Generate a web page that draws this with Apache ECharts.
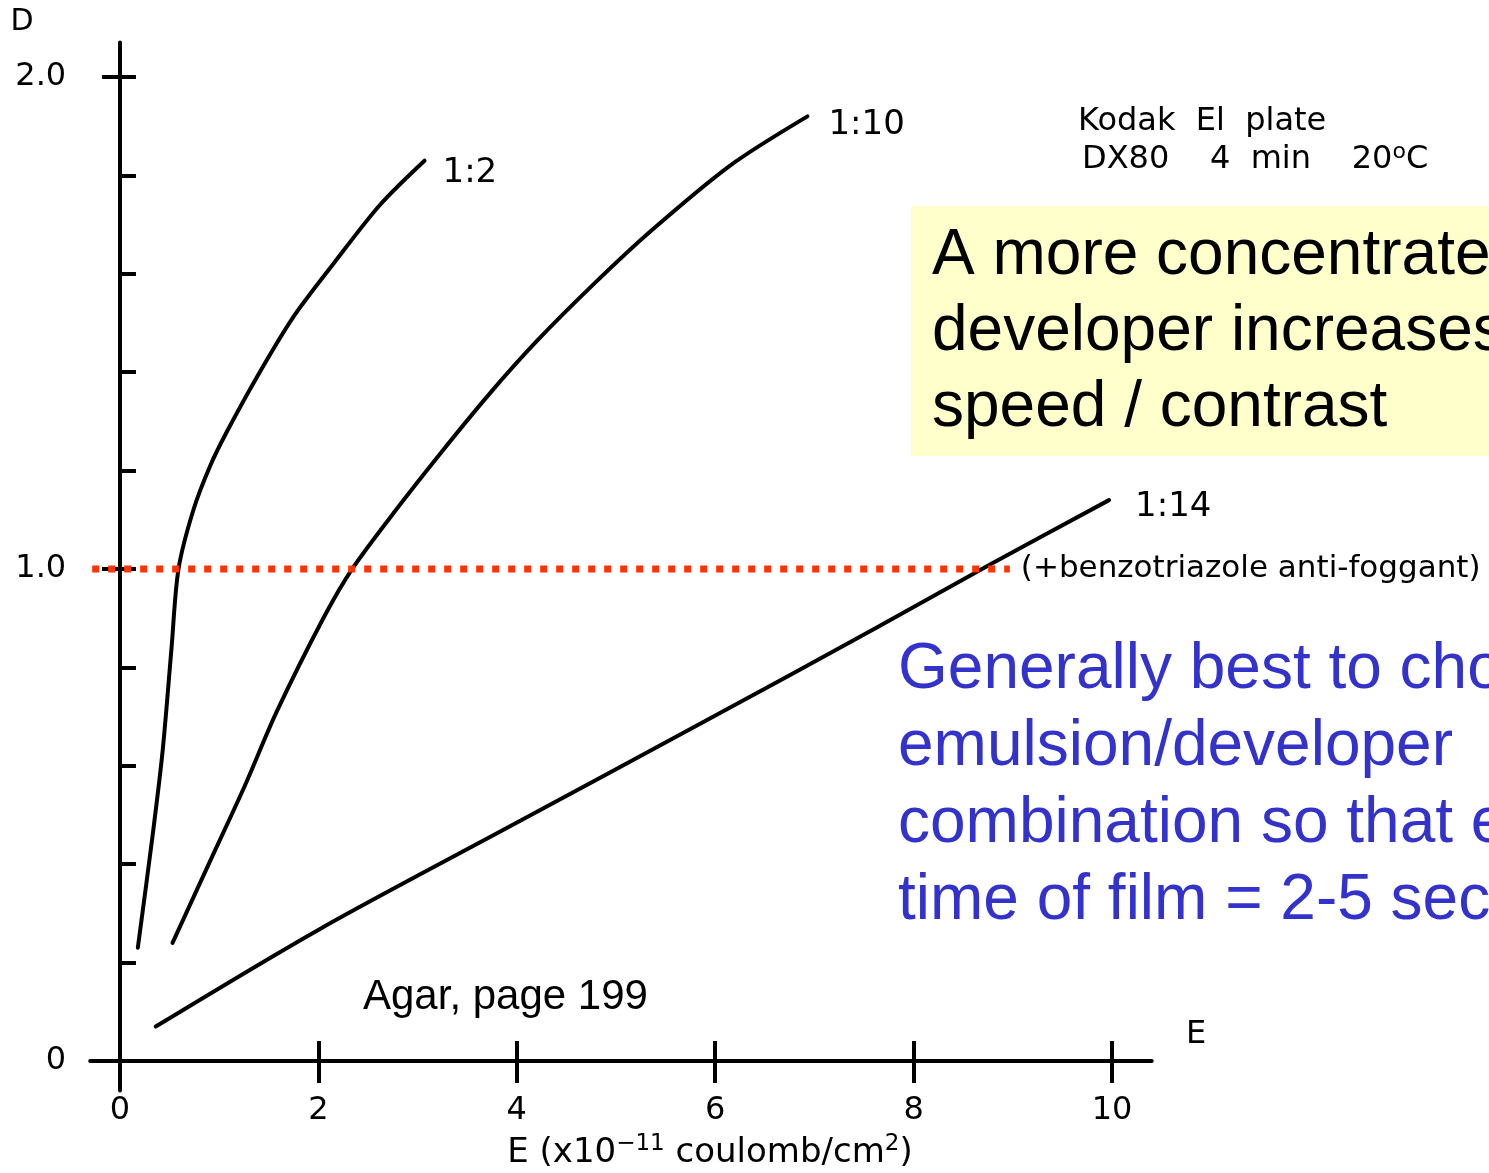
<!DOCTYPE html>
<html>
<head>
<meta charset="UTF-8">
<title>D vs E</title>
<style>
  html, body { margin: 0; padding: 0; background: #fff; }
  #chart { width: 1489px; height: 1173px; }
</style>
<script src="https://cdn.jsdelivr.net/npm/echarts@6/dist/echarts.min.js"></script>
</head>
<body>
<div id="chart"></div>
<script>
// E (x10^-11 coulomb/cm2) and density D
var e1to2 = [0.18, 0.33, 0.43, 0.52, 0.59, 0.74, 0.91, 1.08, 1.38, 1.74, 2.15, 2.62, 3.07];
var d1to2 = [0.23, 0.46, 0.63, 0.84, 1.00, 1.12, 1.21, 1.28, 1.39, 1.51, 1.62, 1.74, 1.83];

var e1to10 = [0.53, 0.94, 1.26, 1.58, 2.05, 2.34, 2.82, 3.23, 3.72, 4.21, 4.78, 5.34, 6.15, 6.93];
var d1to10 = [0.24, 0.42, 0.56, 0.71, 0.90, 1.00, 1.13, 1.235, 1.355, 1.465, 1.58, 1.685, 1.82, 1.92];

var e1to14 = [0.36, 2.03, 3.96, 5.89, 7.62, 8.78, 9.97];
var d1to14 = [0.07, 0.27, 0.48, 0.69, 0.88, 1.01, 1.14];

// dotted reference line at D = 1.0
var refE = [-0.28, 8.97];
var refD = [1.0, 1.0];

var xTicks = [0, 2, 4, 6, 8, 10];
var yLabels = [0, 1, 2];
var yTicks = [0.2, 0.4, 0.6, 0.8, 1.0, 1.2, 1.4, 1.6, 1.8, 2.0];
var yCross = [1.0, 2.0];

var SCAN = '"DejaVu Sans", sans-serif';            // the scanned figure lettering
var FONT = '"Liberation Sans", Arial, sans-serif'; // the slide text

function zip(xs, ys) { return xs.map(function (x, i) { return [x, ys[i]]; }); }

function curve(name, xs, ys, off) {
    return {
        name: name, type: 'line', data: zip(xs, ys),
        symbol: 'none', smooth: 0.3,
        lineStyle: { color: '#000', width: 4, cap: 'round' },
        endLabel: { show: true, formatter: name, color: '#000', fontSize: 34, fontFamily: SCAN, offset: off }
    };
}

var chart = echarts.init(document.getElementById('chart'));

var blk = { color: '#000', width: 4 };

var option = {
    animation: false,
    grid: { left: 90.2, right: 337.3, top: 42.6, bottom: 82.5, outerBoundsMode: 'none', containLabel: false },
    xAxis: [
        { type: 'value', min: -0.3, max: 10.4,
          axisLine: { onZero: true, lineStyle: blk },
          splitLine: { show: false },
          axisTick: { customValues: xTicks, length: 22, lineStyle: blk },
          axisLabel: { customValues: xTicks, margin: 4, fontSize: 32, color: '#000', fontFamily: SCAN } },
        { type: 'value', min: -0.3, max: 10.4, position: 'bottom',
          axisLine: { show: false, onZero: true },
          splitLine: { show: false },
          axisTick: { customValues: xTicks.slice(1), inside: true, length: 20, lineStyle: blk },
          axisLabel: { show: false } }
    ],
    yAxis: [
        { type: 'value', min: -0.06, max: 2.07,
          axisLine: { onZero: true, lineStyle: blk },
          splitLine: { show: false },
          axisTick: { customValues: yTicks, inside: true, length: 16, lineStyle: blk },
          axisLabel: { customValues: yLabels, margin: 24, fontSize: 32, color: '#000', fontFamily: SCAN,
                       formatter: function (v) { return v === 0 ? '0' : v.toFixed(1); } } },
        { type: 'value', min: -0.06, max: 2.07, position: 'left',
          axisLine: { show: false, onZero: true },
          splitLine: { show: false },
          axisTick: { customValues: yCross, length: 18, lineStyle: blk },
          axisLabel: { show: false } }
    ],
    series: [
        curve('1:2', e1to2, d1to2, [10, 12]),
        curve('1:10', e1to10, d1to10, [13, 9]),
        curve('1:14', e1to14, d1to14, [18, 7]),
        { name: 'ref', type: 'line', data: zip(refE, refD), symbol: 'none', z: 4,
          lineStyle: { color: '#ff3300', width: 7, type: [7, 9], cap: 'butt' },
          endLabel: { show: true, formatter: '(+benzotriazole anti-foggant)', color: '#000',
                      fontSize: 31, fontFamily: SCAN, offset: [3, 0] } }
    ],
    graphic: [
        // axis letters
        { type: 'text', z: 10, style: { text: 'D', x: 22, y: 22, align: 'center', verticalAlign: 'middle',
            fontSize: 30, fontFamily: SCAN, fill: '#000' } },
        { type: 'text', z: 10, style: { text: 'E', x: 1196, y: 1035, align: 'center', verticalAlign: 'middle',
            fontSize: 32, fontFamily: SCAN, fill: '#000' } },
        { type: 'text', z: 10, style: { text: 'E (x10{sup|\u221211} coulomb/cm{sup|2})', x: 710, y: 1153,
            align: 'center', verticalAlign: 'middle', fontSize: 34, fontFamily: SCAN, fill: '#000',
            rich: { sup: { fontSize: 23, fontFamily: SCAN, fill: '#000', padding: [0, 0, 18, 0] } } } },
        // plate info
        { type: 'text', z: 10, style: { text: 'Kodak  El  plate', x: 1078, y: 122, verticalAlign: 'middle',
            fontSize: 32, fontFamily: SCAN, fill: '#000' } },
        { type: 'text', z: 10, style: { text: 'DX80    4  min    20{sup|o}C', x: 1082, y: 160, verticalAlign: 'middle',
            fontSize: 32, fontFamily: SCAN, fill: '#000',
            rich: { sup: { fontSize: 22, fontFamily: SCAN, fill: '#000', padding: [0, 0, 16, 0] } } } },
        // yellow note
        { type: 'rect', z: 10, shape: { x: 911, y: 206, width: 578, height: 250 }, style: { fill: '#ffffcc' } },
        { type: 'text', z: 11, style: { text: 'A more concentrated\ndeveloper increases\nspeed / contrast',
            x: 932, y: 218, lineHeight: 76, fontSize: 64, fontFamily: FONT, fill: '#000' } },
        // blue note on white
        { type: 'rect', z: 10, shape: { x: 878, y: 632, width: 611, height: 320 }, style: { fill: '#fff' } },
        { type: 'text', z: 11, style: { text: 'Generally best to choose\nemulsion/developer\ncombination so that exposure\ntime of film = 2-5 sec',
            x: 898, y: 632, lineHeight: 77, fontSize: 64, fontFamily: FONT, fill: '#3333cc' } },
        { type: 'text', z: 11, style: { text: 'Agar, page 199', x: 363, y: 997, verticalAlign: 'middle',
            fontSize: 42, fontFamily: FONT, fill: '#000' } }
    ]
};

chart.setOption(option);
</script>
</body>
</html>
